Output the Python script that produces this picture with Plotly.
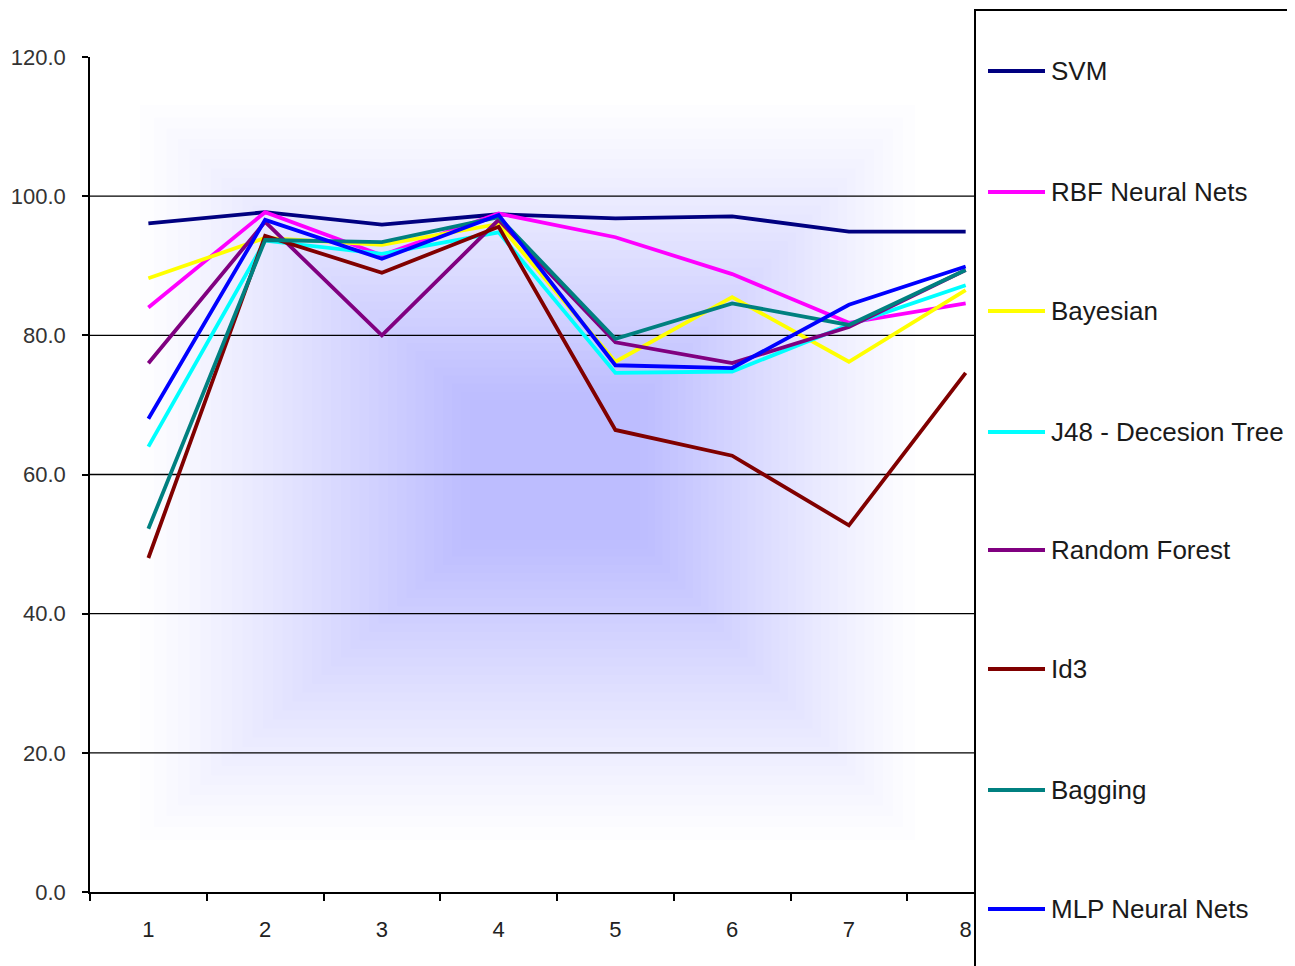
import plotly.graph_objects as go

categories = ["1", "2", "3", "4", "5", "6", "7", "8"]

series_names = ["SVM", "RBF Neural Nets", "Bayesian", "J48 - Decesion Tree",
                "Random Forest", "Id3", "Bagging", "MLP Neural Nets"]

svm = [96.1, 97.7, 95.9, 97.4, 96.8, 97.1, 94.9, 94.9]
rbf = [84.0, 97.7, 91.5, 97.5, 94.1, 88.8, 81.8, 84.6]
bayesian = [88.2, 94.0, 93.0, 96.0, 76.2, 85.5, 76.2, 86.5]
j48 = [64.0, 93.6, 91.7, 94.8, 74.6, 74.8, 81.5, 87.2]
random_forest = [76.0, 96.3, 80.0, 96.6, 79.0, 76.0, 81.2, 89.4]
id3 = [48.0, 94.3, 89.0, 95.6, 66.4, 62.7, 52.7, 74.6]
bagging = [52.2, 93.7, 93.4, 97.0, 79.5, 84.6, 81.5, 89.4]
mlp = [68.0, 96.6, 91.0, 97.3, 75.7, 75.3, 84.4, 89.9]

series_values = [svm, rbf, bayesian, j48, random_forest, id3, bagging, mlp]
colors = ["#000080", "#FF00FF", "#FFFF00", "#00FFFF",
          "#800080", "#800000", "#008080", "#0000FF"]

y_ticks = [0, 20, 40, 60, 80, 100, 120]
grid_values = [20, 40, 60, 80, 100]

FONT = "Liberation Sans, Arial, sans-serif"

# page offset (body margin) compensation
OFF = 8
W, H = 1295 - OFF, 966 - OFF
# target screen coords of plot area
SL, SR, ST, SB = 90, 975, 57, 892
L, R, T, B = SL - OFF, SR - OFF, ST - OFF, SB - OFF
PW, PH = R - L, B - T


def px_x(p):
    return (p - SL) / PW


def px_y(p):
    return (SB - p) / PH


fig = go.Figure()
for name, vals, col in zip(series_names, series_values, colors):
    fig.add_trace(go.Scatter(
        x=categories, y=vals, mode="lines", name=name,
        line=dict(color=col, width=3.8), showlegend=False,
        hovertemplate=name + ": %{y:.1f}<extra></extra>",
    ))

shapes = []
# soft lavender background glow (decorative)
n = 34
outer = (140, 105, 915, 840)
inner = (470, 400, 640, 540)
for i in range(n):
    t = (i / (n - 1)) ** 0.9
    x0 = outer[0] + (inner[0] - outer[0]) * t
    y0 = outer[1] + (inner[1] - outer[1]) * t
    x1 = outer[2] + (inner[2] - outer[2]) * t
    y1 = outer[3] + (inner[3] - outer[3]) * t
    shapes.append(dict(type="rect", xref="paper", yref="paper",
                       x0=px_x(x0), x1=px_x(x1), y0=px_y(y1), y1=px_y(y0),
                       fillcolor="#7070f0", opacity=0.014, line=dict(width=0),
                       layer="below"))

# horizontal gridlines (no line at 120)
for g in grid_values:
    shapes.append(dict(type="line", xref="paper", yref="y", x0=0, x1=1,
                       y0=g, y1=g, line=dict(color="black", width=1.4),
                       layer="below"))

# legend box
shapes.append(dict(type="rect", xref="paper", yref="paper",
                   x0=px_x(975), x1=px_x(1310), y0=px_y(990), y1=px_y(10),
                   line=dict(color="black", width=2), fillcolor="white",
                   layer="above"))

annotations = []
legend_rows = [71, 192, 311, 432, 550, 669, 790, 909]
for name, col, ry in zip(series_names, colors, legend_rows):
    shapes.append(dict(type="line", xref="paper", yref="paper",
                       x0=px_x(988), x1=px_x(1045), y0=px_y(ry), y1=px_y(ry),
                       line=dict(color=col, width=3.8), layer="above"))
    annotations.append(dict(xref="paper", yref="paper", x=px_x(1049), y=px_y(ry),
                            xanchor="left", yanchor="middle", text=name,
                            showarrow=False,
                            font=dict(family=FONT, size=26, color="#1a1a1a")))

fig.update_layout(
    width=W, height=H,
    margin=dict(l=L, r=W - R, t=T, b=H - B, pad=0, autoexpand=False),
    paper_bgcolor="white", plot_bgcolor="white",
    font=dict(family=FONT, size=22, color="#222222"),
    shapes=shapes, annotations=annotations,
    showlegend=False,
    xaxis=dict(
        type="category", range=[-0.5, 7.08], tickson="boundaries",
        showgrid=False, zeroline=False, automargin=False,
        showline=True, linecolor="black", linewidth=1.5,
        ticks="outside", ticklen=7, tickwidth=1.5, tickcolor="black",
        ticklabelstandoff=17,
        tickfont=dict(family=FONT, size=22, color="#222222"),
    ),
    yaxis=dict(
        range=[0, 120], tickvals=y_ticks, tickformat=".1f",
        showgrid=False, zeroline=False, automargin=False,
        showline=True, linecolor="black", linewidth=1.5,
        ticks="outside", ticklen=6, tickwidth=1.5, tickcolor="black",
        ticklabelstandoff=12,
        tickfont=dict(family=FONT, size=22, color="#333333"),
    ),
)

fig.write_html("out.html")
